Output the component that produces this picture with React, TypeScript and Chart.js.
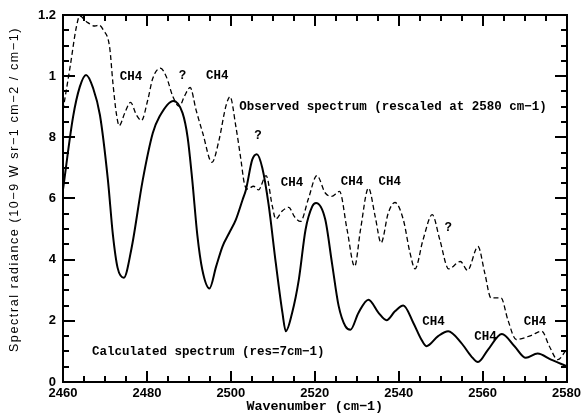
import React, { useEffect, useRef } from 'react';
import { Chart, registerables } from 'chart.js';

Chart.register(...registerables);

// Calculated spectrum (solid)
const CALC_WN = [
  2460, 2462.4, 2464, 2465.5, 2467.2, 2468.8, 2470.7, 2471.9, 2473.0, 2474.5,
  2476.3, 2479.0, 2481.4, 2483.0, 2486.3, 2488.5, 2489.7, 2490.8, 2492.0, 2493.2,
  2494.9, 2496.5, 2498.0, 2499.6, 2501.2, 2502.8, 2503.6, 2505.1, 2506.2, 2507.5,
  2509.0, 2510.7, 2512.3, 2513.1, 2514.6, 2516.2, 2517.8, 2519.4, 2520.3, 2522.5,
  2524.1, 2525.7, 2527.3, 2528.5, 2530.4, 2532.8, 2535.2, 2537.1, 2539.1, 2541.1,
  2543.5, 2545.4, 2546.6, 2549.4, 2551.8, 2554.9, 2557.3, 2558.9, 2561.3, 2564.6,
  2567.6, 2570.3, 2573.1, 2576.3, 2580,
];
const CALC_RAD = [
  0.629, 0.867, 0.965, 1.004, 0.96, 0.873, 0.661, 0.48, 0.374, 0.341,
  0.435, 0.66, 0.814, 0.868, 0.919, 0.879, 0.8, 0.661, 0.482, 0.367,
  0.306, 0.378, 0.443, 0.487, 0.531, 0.596, 0.629, 0.727, 0.745, 0.70,
  0.58, 0.39, 0.226, 0.166, 0.226, 0.335, 0.498, 0.574, 0.585, 0.531,
  0.389, 0.248, 0.182, 0.171, 0.226, 0.269, 0.226, 0.202, 0.231, 0.25,
  0.193, 0.139, 0.117, 0.15, 0.166, 0.128, 0.084, 0.065, 0.106, 0.157,
  0.117, 0.079, 0.093, 0.073, 0.052,
];

// Observed spectrum (dashed)
const OBS_WN = [
  2460, 2461.7, 2463.2, 2464.0, 2465.6, 2467.6, 2468.6, 2469.6, 2471.1, 2471.9,
  2472.7, 2473.4, 2474.7, 2476.1, 2477.5, 2478.7, 2480.2, 2481.4, 2483.2, 2484.6,
  2486.2, 2487.7, 2488.9, 2490.3, 2491.7, 2493.3, 2495.5, 2497.2, 2498.8, 2499.8,
  2501.2, 2502.4, 2503.2, 2504.0, 2505.4, 2506.6, 2508.4, 2509.9, 2510.7, 2512.3,
  2513.8, 2515.2, 2516.6, 2518.5, 2520.5, 2522.5, 2524.0, 2525.9, 2527.7, 2529.5,
  2530.9, 2532.8, 2534.4, 2535.8, 2537.5, 2539.1, 2541.1, 2542.7, 2543.9, 2545.8,
  2548.0, 2549.8, 2551.9, 2554.7, 2556.4, 2558.9, 2560.5, 2562.0, 2564.4, 2566.0,
  2568.0, 2571.5, 2574.1, 2575.9, 2577.9, 2580,
];
const OBS_RAD = [
  0.889, 1.031, 1.162, 1.197, 1.178, 1.164, 1.167, 1.151, 1.096, 0.977,
  0.879, 0.838, 0.879, 0.914, 0.873, 0.855, 0.922, 0.993, 1.026, 0.999,
  0.933, 0.901, 0.933, 0.963, 0.89, 0.814, 0.718, 0.792, 0.901, 0.933,
  0.835, 0.727, 0.65, 0.631, 0.64, 0.628, 0.675, 0.574, 0.533, 0.56,
  0.571, 0.54, 0.525, 0.60, 0.675, 0.618, 0.607, 0.623, 0.498, 0.378,
  0.498, 0.634, 0.541, 0.455, 0.552, 0.587, 0.531, 0.422, 0.37, 0.465,
  0.547, 0.465, 0.37, 0.394, 0.365, 0.443, 0.357, 0.275, 0.275, 0.204,
  0.139, 0.152, 0.166, 0.117, 0.073, 0.106,
];

const X_MIN = 2460;
const X_MAX = 2580;
const X_MAJOR_STEP = 20;
const X_MINOR_STEP = 5;
const Y_MIN = 0;
const Y_MAX = 1.2;
const Y_TICK_VALUES = [0, 0.2, 0.4, 0.6, 0.8, 1.0, 1.2];
const Y_TICK_LABELS = ['0', '2', '4', '6', '8', '1', '1.2'];
const Y_MINOR_STEP = 0.05;

const X_TITLE = 'Wavenumber (cm\u22121)';
const Y_TITLE = 'Spectral radiance (10\u22129 W sr\u22121 cm\u22122 / cm\u22121)';

// Text labels anchored in data coordinates
const NOTE_TEXT = [
  'CH4', '?', 'CH4', 'Observed spectrum (rescaled at 2580 cm\u22121)', '?',
  'CH4', 'CH4', 'CH4', '?', 'CH4', 'CH4', 'CH4', 'Calculated spectrum (res=7cm\u22121)',
];
const NOTE_WN = [2473.5, 2488.5, 2494.1, 2502.0, 2506.5, 2511.9, 2526.2, 2535.2, 2551.8, 2545.6, 2558.0, 2569.8, 2466.9];
const NOTE_RAD = [0.998, 1.0, 1.0, 0.90, 0.805, 0.651, 0.654, 0.654, 0.504, 0.198, 0.149, 0.198, 0.10];
const NOTE_ALIGN = ['left', 'center', 'left', 'left', 'center', 'left', 'left', 'left', 'center', 'left', 'left', 'left', 'left'];

const framePlugin = {
  id: 'frameTicks',
  afterDraw(chart: any) {
    const ctx = chart.ctx;
    const a = chart.chartArea;
    const xs = chart.scales.x;
    const ys = chart.scales.y;
    const L = Math.round(a.left);
    const R = Math.round(a.right);
    const T = Math.round(a.top);
    const B = Math.round(a.bottom);
    ctx.save();
    ctx.setLineDash([]);
    ctx.fillStyle = '#000';
    const w = 2;
    // frame
    ctx.fillRect(L - 1, T - 1, R - L + 2, w);
    ctx.fillRect(L - 1, B - 1, R - L + 2, w);
    ctx.fillRect(L - 1, T - 1, w, B - T + 2);
    ctx.fillRect(R - 1, T - 1, w, B - T + 2);
    // x ticks (inward, bottom and top)
    const nx = Math.round((X_MAX - X_MIN) / X_MINOR_STEP);
    for (let i = 0; i <= nx; i++) {
      const v = X_MIN + i * X_MINOR_STEP;
      const px = Math.round(xs.getPixelForValue(v));
      const len = (v - X_MIN) % X_MAJOR_STEP === 0 ? 11 : 6;
      ctx.fillRect(px - 1, B - len, w, len);
      ctx.fillRect(px - 1, T, w, len);
    }
    // y ticks (inward, left and right)
    const ny = Math.round((Y_MAX - Y_MIN) / Y_MINOR_STEP);
    for (let i = 0; i <= ny; i++) {
      const v = Y_MIN + i * Y_MINOR_STEP;
      const py = Math.round(ys.getPixelForValue(v));
      const len = i % 4 === 0 ? 12 : 6;
      ctx.fillRect(L, py - 1, len, w);
      ctx.fillRect(R - len, py - 1, len, w);
    }

    // annotations
    ctx.textBaseline = 'middle';
    ctx.font = 'bold 12.5px "Liberation Mono"';
    NOTE_TEXT.forEach((t, i) => {
      ctx.textAlign = NOTE_ALIGN[i] as CanvasTextAlign;
      ctx.fillText(t, xs.getPixelForValue(NOTE_WN[i]), ys.getPixelForValue(NOTE_RAD[i]));
    });

    // y-axis title
    ctx.save();
    ctx.translate(15, (a.top + a.bottom) / 2 - 9);
    ctx.rotate(-Math.PI / 2);
    ctx.textAlign = 'center';
    ctx.textBaseline = 'middle';
    ctx.font = '12.5px "Liberation Sans"';
    (ctx as any).letterSpacing = '1.6px';
    ctx.fillText(Y_TITLE, 0, 0);
    ctx.restore();
    ctx.restore();
  },
};

export default function App() {
  const ref = useRef<HTMLCanvasElement | null>(null);
  useEffect(() => {
    if (!ref.current) return;
    const chart = new Chart(ref.current, {
      type: 'line',
      data: {
        datasets: [
          {
            data: CALC_WN.map((x, i) => ({ x, y: CALC_RAD[i] })),
            borderColor: '#000',
            borderWidth: 2,
            pointRadius: 0,
            cubicInterpolationMode: 'monotone',
            fill: false,
          },
          {
            data: OBS_WN.map((x, i) => ({ x, y: OBS_RAD[i] })),
            borderColor: '#000',
            borderWidth: 1.3,
            borderDash: [5, 3],
            pointRadius: 0,
            cubicInterpolationMode: 'monotone',
            fill: false,
          },
        ],
      },
      options: {
        animation: false,
        responsive: false,
        devicePixelRatio: 1,
        layout: { padding: { top: 15, right: 16, left: 0, bottom: 0 } },
        plugins: { legend: { display: false }, tooltip: { enabled: false } },
        scales: {
          x: {
            type: 'linear',
            min: X_MIN,
            max: X_MAX,
            grid: { display: false, drawTicks: false },
            border: { display: false },
            ticks: {
              stepSize: X_MAJOR_STEP,
              autoSkip: false,
              maxRotation: 0,
              padding: 4,
              color: '#000',
              font: { family: '"Liberation Sans"', size: 13, weight: 'bold' },
              callback: (v: any) => String(v),
            },
            title: {
              display: true,
              text: X_TITLE,
              color: '#000',
              padding: { top: 0, bottom: 0 },
              font: { family: '"Liberation Mono"', size: 13.4, weight: 'bold', lineHeight: 1 },
            },
            afterFit: (s: any) => { s.height = 31; },
          },
          y: {
            type: 'linear',
            min: Y_MIN,
            max: Y_MAX,
            grid: { display: false, drawTicks: false },
            border: { display: false },
            ticks: {
              stepSize: 0.2,
              autoSkip: false,
              padding: 7,
              color: '#000',
              font: { family: '"Liberation Sans"', size: 13, weight: 'bold' },
              callback: (v: any) => {
                const idx = Y_TICK_VALUES.findIndex((t) => Math.abs(t - Number(v)) < 1e-6);
                return idx >= 0 ? Y_TICK_LABELS[idx] : '';
              },
            },
            afterFit: (s: any) => { s.width = 63; },
          },
        },
      },
      plugins: [framePlugin],
    } as any);
    return () => chart.destroy();
  }, []);
  return (
    <div style={{ position: 'absolute', left: 0, top: 0, width: 585, height: 413, background: '#fff' }}>
      <canvas ref={ref} width={585} height={413} style={{ display: 'block' }} />
    </div>
  );
}
